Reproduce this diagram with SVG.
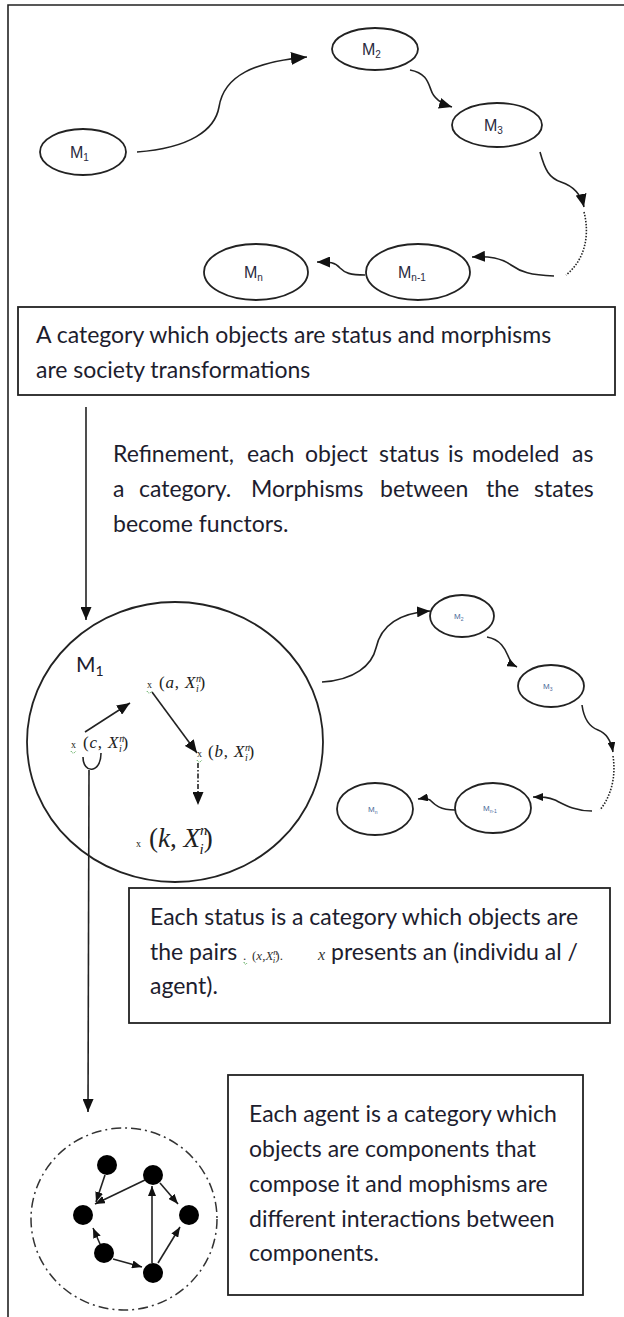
<svg xmlns="http://www.w3.org/2000/svg" width="624" height="1317" viewBox="0 0 624 1317">
<style>
.ln{fill:none;stroke:#222;stroke-width:1.6}
.nd{fill:#fff;stroke:#222;stroke-width:1.8}
.bx{fill:#fff;stroke:#222;stroke-width:1.8}
.tx{font-family:Lato,"Liberation Sans",sans-serif;font-size:23px;fill:#1d1d2e}
.lb{font-family:"Liberation Sans",Arial,sans-serif;font-size:16px;fill:#2a2a40}
.sl{font-family:"Liberation Sans",Arial,sans-serif;font-size:8px;fill:#4a6a9a}
.mt{font-family:"Liberation Serif","DejaVu Serif",serif;font-size:17px;letter-spacing:0.8px;fill:#222}
.ms{font-family:"Liberation Serif","DejaVu Serif",serif;font-size:13px;fill:#333}
.sq{fill:none;stroke:#3a9a3a;stroke-width:1;stroke-dasharray:1 1}
.dot{fill:#000}
</style>
<defs>
<marker id="ah" markerUnits="userSpaceOnUse" markerWidth="16" markerHeight="13" refX="16" refY="6.5" orient="auto"><path d="M0,0 L16,6.5 L0,13 z" fill="#111"/></marker>
<marker id="am" markerUnits="userSpaceOnUse" markerWidth="13" markerHeight="11" refX="13" refY="5.5" orient="auto"><path d="M0,0 L13,5.5 L0,11 z" fill="#111"/></marker>
<marker id="as" markerUnits="userSpaceOnUse" markerWidth="10" markerHeight="8" refX="10" refY="4" orient="auto"><path d="M0,0 L10,4 L0,8 z" fill="#111"/></marker>
</defs>

<g id="frame"><path d="M8,1317 V5 H624" class="ln"/></g>

<g id="connectors">
  <path class="ln" marker-end="url(#ah)" d="M137,152 C190,148 215,130 219,107 C224,75 255,62 307,57"/>
  <path class="ln" marker-end="url(#am)" d="M410,70 C426,73 428,82 431,90 C434,99 442,104 452,107"/>
  <path class="ln" marker-end="url(#am)" d="M540,152 C545,170 549,178 561,182 C573,186 581,194 584,207"/>
  <path class="ln" stroke-dasharray="1.5 1.5" d="M584,212 C590,235 585,260 566,275"/>
  <path class="ln" marker-end="url(#am)" d="M554,276 C530,275 521,272 511,265 C501,258 490,256 472,257"/>
  <path class="ln" marker-end="url(#am)" d="M365,275 C350,275 345,273 340,268 C335,262 330,262 317,262"/>
  <path class="ln" marker-end="url(#am)" d="M86,407 V620"/>
  <path class="ln" marker-end="url(#am)" d="M85,732 L130,703"/>
  <path class="ln" marker-end="url(#am)" d="M152,692 L197,753"/>
  <path class="ln" stroke-dasharray="5 2 1.5 2" marker-end="url(#am)" d="M198,763 V805"/>
  <path class="ln" d="M83,757 C83,774 101,774 101,753"/>
  <path class="ln" marker-end="url(#am)" d="M89,770 L88,1112"/>
  <path class="ln" marker-end="url(#am)" d="M322,682 C355,680 372,665 376,648 C381,625 400,613 430,611"/>
  <path class="ln" marker-end="url(#as)" d="M487,637 C503,640 506,652 509,658 C511,663 513,665 517,667"/>
  <path class="ln" marker-end="url(#as)" d="M582,705 C584,720 590,727 598,730 C606,733 611,740 613,752"/>
  <path class="ln" stroke-dasharray="1.5 1.5" d="M613,756 C616,775 612,795 600,810"/>
  <path class="ln" marker-end="url(#as)" d="M592,811 C575,811 565,805 555,800 C548,797 543,797 533,797"/>
  <path class="ln" marker-end="url(#as)" d="M455,810 C440,810 435,805 430,800 C427,798 424,798 418,799"/>
  <path class="ln" stroke-width="1.3" marker-end="url(#as)" d="M105,1175 L96,1202"/>
  <path class="ln" stroke-width="1.3" marker-end="url(#as)" d="M145,1180 L95,1204"/>
  <path class="ln" stroke-width="1.3" marker-end="url(#as)" d="M160,1183 L178,1204"/>
  <path class="ln" stroke-width="1.3" marker-end="url(#as)" d="M152,1263 L152,1186"/>
  <path class="ln" stroke-width="1.3" marker-end="url(#as)" d="M100,1244 L93,1228"/>
  <path class="ln" stroke-width="1.3" marker-end="url(#as)" d="M113,1259 L142,1267"/>
  <path class="ln" stroke-width="1.3" marker-end="url(#as)" d="M158,1263 L180,1227"/>
</g>

<g id="node-M1"><ellipse class="nd" cx="83" cy="152" rx="43" ry="23"/><text class="lb" x="70" y="158">M<tspan font-size="10" dy="3">1</tspan></text></g>
<g id="node-M2"><ellipse class="nd" cx="375" cy="49" rx="43" ry="21"/><text class="lb" x="362" y="55">M<tspan font-size="10" dy="3">2</tspan></text></g>
<g id="node-M3"><ellipse class="nd" cx="497" cy="125" rx="45" ry="22"/><text class="lb" x="484" y="131">M<tspan font-size="10" dy="3">3</tspan></text></g>
<g id="node-Mn1"><ellipse class="nd" cx="418" cy="272" rx="52" ry="28"/><text class="lb" x="398" y="278">M<tspan font-size="10" dy="3">n-1</tspan></text></g>
<g id="node-Mn"><ellipse class="nd" cx="256" cy="272" rx="52" ry="28"/><text class="lb" x="244" y="278">M<tspan font-size="10" dy="3">n</tspan></text></g>

<g id="box-category">
  <rect class="bx" x="18" y="307" width="597" height="88"/>
  <text class="tx" x="36" y="343">A category which objects are status  and morphisms</text>
  <text class="tx" x="36" y="378">are society transformations</text>
</g>

<g id="label-refinement">
  <text class="tx" y="462"><tspan x="113">Refinement,</tspan><tspan x="247">each</tspan><tspan x="305">object</tspan><tspan x="379">status</tspan><tspan x="448">is</tspan><tspan x="472">modeled</tspan><tspan x="572">as</tspan></text>
  <text class="tx" y="497"><tspan x="113">a</tspan><tspan x="139">category.</tspan><tspan x="251">Morphisms</tspan><tspan x="380">between</tspan><tspan x="486">the</tspan><tspan x="534">states</tspan></text>
  <text class="tx" x="113" y="532">become functors.</text>
</g>

<g id="node-M1-category">
  <ellipse class="nd" cx="175" cy="742" rx="148" ry="140" style="fill:none"/>
  <text class="tx" x="76" y="672" style="font-size:21px">M<tspan font-size="14" dy="4">1</tspan></text>
  <text class="mt" y="688"><tspan font-size="10" x="147">x</tspan><tspan x="159">(</tspan><tspan font-style="italic">a</tspan>, <tspan font-style="italic">X</tspan><tspan font-size="10" font-style="italic" dy="-6">n</tspan><tspan font-size="10" font-style="italic" dx="-6" dy="10">i</tspan><tspan dy="-4">)</tspan></text>
  <path class="sq" d="M147,691 q2,4 5,0"/>
  <text class="mt" y="748"><tspan font-size="10" x="71">x</tspan><tspan x="83">(</tspan><tspan font-style="italic">c</tspan>, <tspan font-style="italic">X</tspan><tspan font-size="10" font-style="italic" dy="-6">n</tspan><tspan font-size="10" font-style="italic" dx="-6" dy="10">i</tspan><tspan dy="-4">)</tspan></text>
  <path class="sq" d="M71,751 q2,4 5,0"/>
  <text class="mt" y="757"><tspan font-size="10" x="197">x</tspan><tspan x="208">(</tspan><tspan font-style="italic">b</tspan>, <tspan font-style="italic">X</tspan><tspan font-size="10" font-style="italic" dy="-6">n</tspan><tspan font-size="10" font-style="italic" dx="-6" dy="10">i</tspan><tspan dy="-4">)</tspan></text>
  <path class="sq" d="M197,760 q2,4 5,0"/>
  <text class="mt" y="847" style="font-size:27px;letter-spacing:0"><tspan font-size="10" x="136">x</tspan><tspan x="149">(</tspan><tspan font-style="italic">k</tspan>, <tspan font-style="italic">X</tspan><tspan font-size="15" font-style="italic" dy="-12">n</tspan><tspan font-size="15" font-style="italic" dx="-8" dy="19">i</tspan><tspan dy="-7">)</tspan></text>
</g>

<g id="node-s-M2"><ellipse class="nd" cx="462" cy="616" rx="32" ry="21"/><text class="sl" x="454" y="619">M<tspan font-size="5" dy="2">2</tspan></text></g>
<g id="node-s-M3"><ellipse class="nd" cx="551" cy="686" rx="33" ry="21"/><text class="sl" x="543" y="689">M<tspan font-size="5" dy="2">3</tspan></text></g>
<g id="node-s-Mn1"><ellipse class="nd" cx="493" cy="808" rx="38" ry="25"/><text class="sl" x="483" y="811">M<tspan font-size="5" dy="2">n-1</tspan></text></g>
<g id="node-s-Mn"><ellipse class="nd" cx="375" cy="809" rx="38" ry="26"/><text class="sl" x="368" y="812">M<tspan font-size="5" dy="2">n</tspan></text></g>

<g id="box-status">
  <rect class="bx" x="129" y="888" width="481" height="135"/>
  <text class="tx" x="150" y="925">Each status is a category which objects are</text>
  <text class="tx" y="960"><tspan x="150">the pairs</tspan><tspan class="ms" x="243">.</tspan><tspan class="ms" x="252">(</tspan><tspan class="ms" font-style="italic">x</tspan><tspan class="ms">,</tspan><tspan class="ms" font-style="italic">X</tspan><tspan class="ms" style="font-size:9px" font-style="italic" dy="-5">n</tspan><tspan class="ms" style="font-size:9px" font-style="italic" dx="-5" dy="8">i</tspan><tspan class="ms" dy="-3">).</tspan><tspan class="ms" style="font-size:16px" font-style="italic" x="318">x</tspan><tspan x="331">presents an (individu al  /</tspan></text>
  <path class="sq" d="M244,962 q1,4 3,1"/>
  <text class="tx" x="150" y="994">agent).</text>
</g>

<g id="node-agent">
  <ellipse cx="124" cy="1219" rx="93" ry="91" fill="none" stroke="#333" stroke-width="1.5" stroke-dasharray="10 4 2 4"/>
  <circle class="dot" cx="107" cy="1165" r="10"/>
  <circle class="dot" cx="153" cy="1175" r="10"/>
  <circle class="dot" cx="83" cy="1215" r="10"/>
  <circle class="dot" cx="189" cy="1215" r="10"/>
  <circle class="dot" cx="104" cy="1253" r="10"/>
  <circle class="dot" cx="153" cy="1273" r="10"/>
</g>

<g id="box-agent">
  <rect class="bx" x="228" y="1075" width="355" height="220"/>
  <text class="tx" x="249" y="1122">Each agent is a category which</text>
  <text class="tx" x="249" y="1157">objects are components that</text>
  <text class="tx" x="249" y="1192">compose it and mophisms  are</text>
  <text class="tx" x="249" y="1227">different interactions between</text>
  <text class="tx" x="249" y="1261">components.</text>
</g>
</svg>
